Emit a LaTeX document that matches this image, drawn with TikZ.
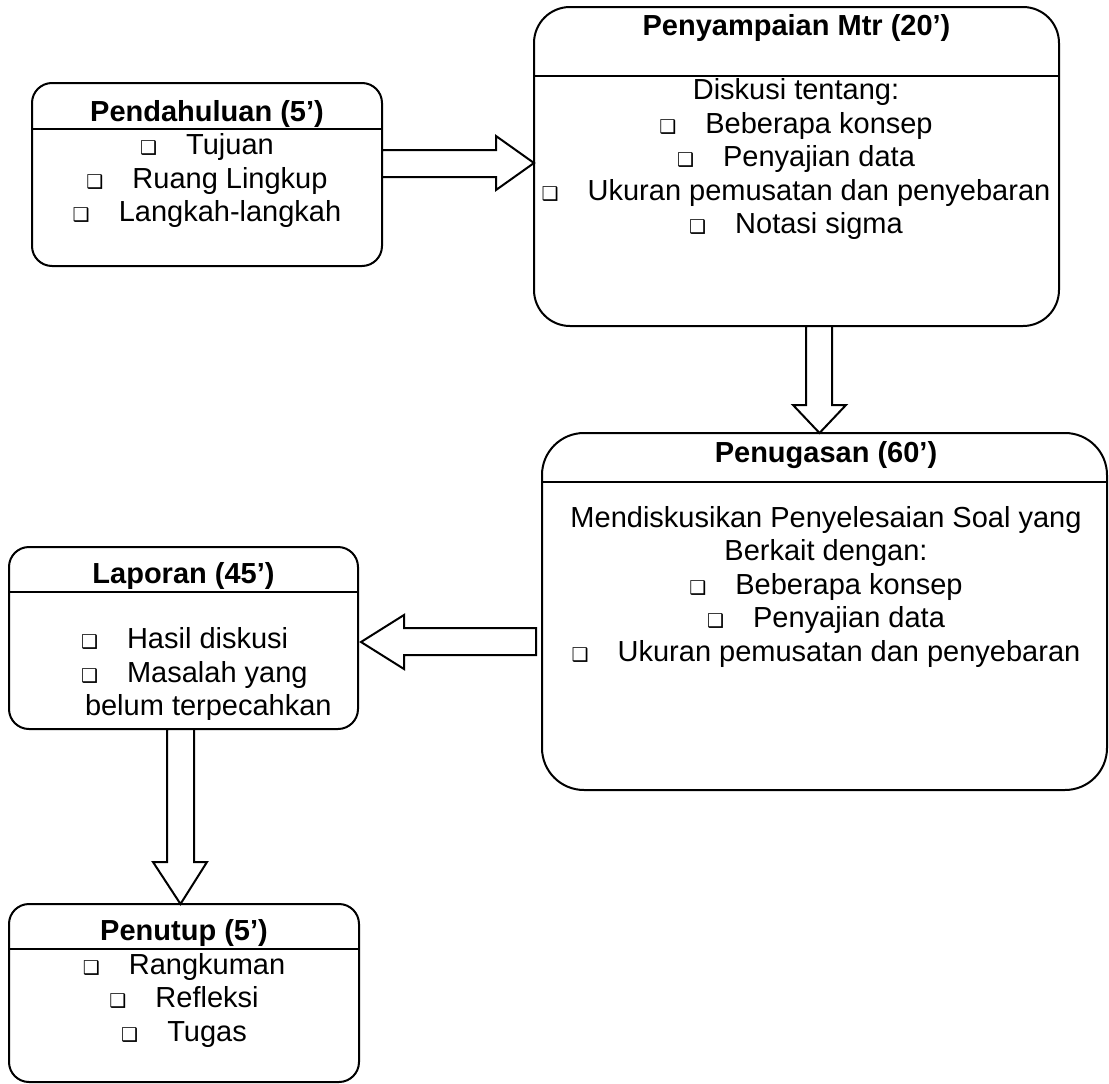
\documentclass[tikz,border=0pt]{standalone}
\usepackage{fontspec}
\setmainfont{Liberation Sans}
\newfontfamily\dingfont{DejaVu Sans}
\usetikzlibrary{calc}
\newcommand{\cbox}{{\dingfont\fontsize{19}{19}\selectfont ❑}\hspace{29pt}}

\begin{document}
\begin{tikzpicture}[x=1pt, y=-1pt, line width=2pt, font=\fontsize{29}{33.4}\selectfont]
  \tikzset{box/.style={draw, inner sep=0pt, outer sep=0pt},ttl/.style={font=\fontsize{29}{33.4}\selectfont\bfseries, inner sep=0pt, anchor=base},body/.style={align=center, inner sep=0pt, anchor=base},blockarr/.style={draw, fill=white, line join=miter}}
  \useasboundingbox (0,0) rectangle (1109,1084);
  % boxes
  \node[box, minimum width=350pt, minimum height=183pt, rounded corners=20pt] (intro) at (207,174.5) {};
  \node[box, minimum width=525pt, minimum height=319pt, rounded corners=36pt] (materi) at (796.5,166.5) {};
  \node[box, minimum width=565pt, minimum height=357pt, rounded corners=42pt] (tugas) at (824.5,611.5) {};
  \node[box, minimum width=349pt, minimum height=182pt, rounded corners=20pt] (laporan) at (183.5,638) {};
  \node[box, minimum width=350pt, minimum height=178pt, rounded corners=20pt] (penutup) at (184,993) {};
  % header lines
  \draw (intro.west |- 0,129) -- (intro.east |- 0,129);
  \draw (materi.west |- 0,76) -- (materi.east |- 0,76);
  \draw (tugas.west |- 0,482) -- (tugas.east |- 0,482);
  \draw (laporan.west |- 0,592) -- (laporan.east |- 0,592);
  \draw (penutup.west |- 0,949) -- (penutup.east |- 0,949);
  % titles
  \node[ttl] (intro-t) at (intro.north |- 0,121) {Pendahuluan (5’)};
  \node[ttl] (materi-t) at (materi.north |- 0,35) {Penyampaian Mtr (20’)};
  \node[ttl] (tugas-t) at (826,462) {Penugasan (60’)};
  \node[ttl] (laporan-t) at (laporan.north |- 0,583) {Laporan (45’)};
  \node[ttl] (penutup-t) at (penutup.north |- 0,940) {Penutup (5’)};
  % contents (placed at the baseline of the last line)
  \node[body] (intro-b) at (intro.north |- 0,221.5) {\cbox Tujuan\\ \cbox Ruang Lingkup\\ \cbox Langkah-langkah};
  \node[body] (materi-b) at (796,233.5) {Diskusi tentang:\\ \cbox Beberapa konsep\\ \cbox Penyajian data\\ \cbox Ukuran pemusatan dan penyebaran\\ \cbox Notasi sigma};
  \node[body] (tugas-b) at (826,661) {Mendiskusikan Penyelesaian Soal yang\\ Berkait dengan:\\ \cbox Beberapa konsep\\ \cbox Penyajian data\\ \cbox Ukuran pemusatan dan penyebaran};
  \begin{scope}
    \clip (laporan.west |- 0,600) rectangle (laporan.east |- 0,719);
    \node[body, align=left, anchor=base west] (laporan-b) at (80,715.5) {\cbox Hasil diskusi\\ \cbox Masalah yang\\ \hspace*{4pt}belum terpecahkan};
  \end{scope}
  \node[body] (penutup-b) at (penutup.north |- 0,1041) {\cbox Rangkuman\\ \cbox Refleksi\\ \cbox Tugas};
  % block arrows
  \draw[blockarr] (intro.east |- 0,150) -- ++(114,0) -- ++(0,-14) -- (materi.west |- 0,163) -- ++(-38,27) -- ++(0,-13) -- (intro.east |- 0,177) -- cycle;
  \draw[blockarr] (materi.south -| 806,0) -- ++(0,79) -- ++(-13,0) -- (tugas.north -| 819.5,0) -- ++(26.5,-28) -- ++(-14,0) -- (materi.south -| 832,0) -- cycle;
  \draw[blockarr] ($(tugas.west |- 0,628)+(-6,0)$) -- ++(-132,0) -- ++(0,-13) -- ($(laporan.east |- 0,642)+(3,0)$) -- ++(43,27) -- ++(0,-14) -- ++(132,0) -- cycle;
  \draw[blockarr] (laporan.south -| 167,0) -- ++(0,133) -- ++(-14,0) -- (penutup.north -| 180.5,0) -- ++(26.5,-42) -- ++(-13,0) -- (laporan.south -| 194,0) -- cycle;
\end{tikzpicture}
\end{document}
